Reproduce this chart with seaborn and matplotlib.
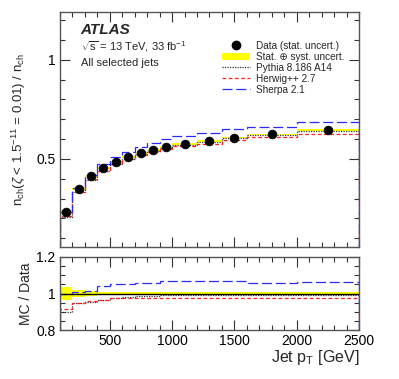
import numpy as np
import pandas as pd
import matplotlib
matplotlib.use("Agg")
import matplotlib.pyplot as plt
import seaborn as sns
from matplotlib.lines import Line2D
from matplotlib.patches import Patch
from matplotlib.ticker import MultipleLocator


# bin edges in jet pT [GeV]
bin_edges = [100, 200, 300, 400, 500, 600, 700, 800, 900, 1000, 1200, 1400, 1600, 2000, 2500]

data_vals = [0.232, 0.348, 0.414, 0.455, 0.485, 0.510, 0.530, 0.545, 0.560, 0.576,
             0.591, 0.607, 0.623, 0.645]
syst_rel = [0.036, 0.020, 0.012, 0.008, 0.007, 0.007, 0.007, 0.007, 0.007, 0.007,
            0.007, 0.007, 0.007, 0.007]

# MC / Data ratios
pythia_ratio = [0.900, 0.950, 0.955, 0.965, 0.975, 0.980, 0.985, 0.988, 0.990, 0.992,
                0.993, 0.993, 0.993, 0.993]
herwig_ratio = [0.915, 0.950, 0.960, 0.965, 0.975, 0.975, 0.978, 0.978, 0.978, 0.978,
                0.977, 0.977, 0.977, 0.973]
sherpa_ratio = [1.000, 1.010, 1.015, 1.040, 1.050, 1.050, 1.055, 1.060, 1.068, 1.068,
                1.068, 1.068, 1.057, 1.062]

legend_labels = ["Data (stat. uncert.)", "Stat. \u2295 syst. uncert.", "Pythia 8.186 A14",
                 "Herwig++ 2.7", "Sherpa 2.1"]


def main():
    sns.set_style("ticks")
    plt.rcParams["font.family"] = ["Liberation Sans", "DejaVu Sans"]
    plt.rcParams["mathtext.fontset"] = "custom"
    plt.rcParams["mathtext.rm"] = "Liberation Sans"
    plt.rcParams["mathtext.it"] = "Liberation Sans:italic"

    edges = np.array(bin_edges, dtype=float)
    centers = 0.5 * (edges[:-1] + edges[1:])
    data = np.array(data_vals)
    rel = np.array(syst_rel)
    df = pd.DataFrame({"pt": centers, "frac": data})

    mc = {
        "pythia": (np.array(pythia_ratio), dict(color="#333333", linestyle=(0, (1, 1)), lw=0.9)),
        "herwig": (np.array(herwig_ratio), dict(color="#ff2020", linestyle=(0, (3, 2)), lw=0.9)),
        "sherpa": (np.array(sherpa_ratio), dict(color="#2a2aff", linestyle=(0, (8, 3)), lw=0.9)),
    }

    fig = plt.figure(figsize=(3.99, 3.79), dpi=100)
    ax = fig.add_axes([0.150, 0.348, 0.750, 0.620])
    rax = fig.add_axes([0.150, 0.129, 0.750, 0.193])

    # upper panel
    ax.stairs(data * (1 + rel), edges, baseline=data * (1 - rel), fill=True,
              color="#ffff00", lw=0)
    for key, (ratio, style) in mc.items():
        ax.stairs(data * ratio, edges, **style)
    sns.scatterplot(data=df, x="pt", y="frac", ax=ax, color="black", s=40,
                    edgecolor="black", zorder=5, legend=False)

    ax.set_xlim(100, 2500)
    ax.set_ylim(0.055, 1.24)
    ax.yaxis.set_minor_locator(MultipleLocator(0.1))
    ax.xaxis.set_major_locator(MultipleLocator(500))
    ax.xaxis.set_minor_locator(MultipleLocator(100))
    ax.set_yticks([0.5, 1.0])
    ax.set_yticklabels(["0.5", "1"])
    ax.tick_params(axis="x", labelbottom=False)
    ax.set_xlabel("")
    ax.set_ylabel(r"n$_{\rm ch}$($\zeta$ < 1.5$^{-11}$ = 0.01) / n$_{\rm ch}$", fontsize=9.5)
    ax.yaxis.set_label_coords(-0.108, 0.5)

    ax.text(0.07, 0.925, "ATLAS", transform=ax.transAxes, fontsize=11,
            fontweight="bold", style="italic", va="center")
    ax.text(0.07, 0.855, r"$\sqrt{\rm s}$ = 13 TeV, 33 fb$^{-1}$", transform=ax.transAxes,
            fontsize=8, va="center")
    ax.text(0.07, 0.785, "All selected jets", transform=ax.transAxes, fontsize=8, va="center")

    handles = [
        Line2D([], [], marker="o", color="black", linestyle="none", markersize=6),
        Patch(facecolor="#ffff00", edgecolor="none"),
        Line2D([], [], **mc["pythia"][1]),
        Line2D([], [], **mc["herwig"][1]),
        Line2D([], [], **mc["sherpa"][1]),
    ]
    ax.legend(handles, legend_labels, loc="upper left", bbox_to_anchor=(0.53, 0.895),
              frameon=False, fontsize=7.2, handlelength=2.8, handletextpad=0.6,
              labelspacing=0.1, borderaxespad=0)

    # ratio panel
    rax.stairs(1 + rel, edges, baseline=1 - rel, fill=True, color="#ffff00", lw=0)
    rax.axhline(1.0, color="black", lw=1.0)
    for key, (ratio, style) in mc.items():
        rax.stairs(ratio, edges, **style)
    rax.set_xlim(100, 2500)
    rax.set_ylim(0.8, 1.2)
    rax.set_yticks([0.8, 1.0, 1.2])
    rax.set_yticklabels(["0.8", "1", "1.2"])
    rax.yaxis.set_minor_locator(MultipleLocator(0.05))
    rax.xaxis.set_major_locator(MultipleLocator(500))
    rax.xaxis.set_minor_locator(MultipleLocator(100))
    rax.set_ylabel("MC / Data", fontsize=10)
    rax.yaxis.set_label_coords(-0.09, 0.5)
    rax.set_xlabel(r"Jet p$_{\rm T}$ [GeV]", fontsize=11.5, loc="right", labelpad=0)

    for a in (ax, rax):
        for side in a.spines.values():
            side.set_color("#555555")
            side.set_linewidth(1.0)
        a.tick_params(which="both", direction="in", top=True, right=True,
                      labelsize=10, colors="#333333", labelcolor="black")
        a.tick_params(which="major", length=7, width=0.8, pad=3)
        a.tick_params(which="minor", length=3.5, width=0.8)

    fig.savefig("out.png", dpi=100)


if __name__ == "__main__":
    main()
